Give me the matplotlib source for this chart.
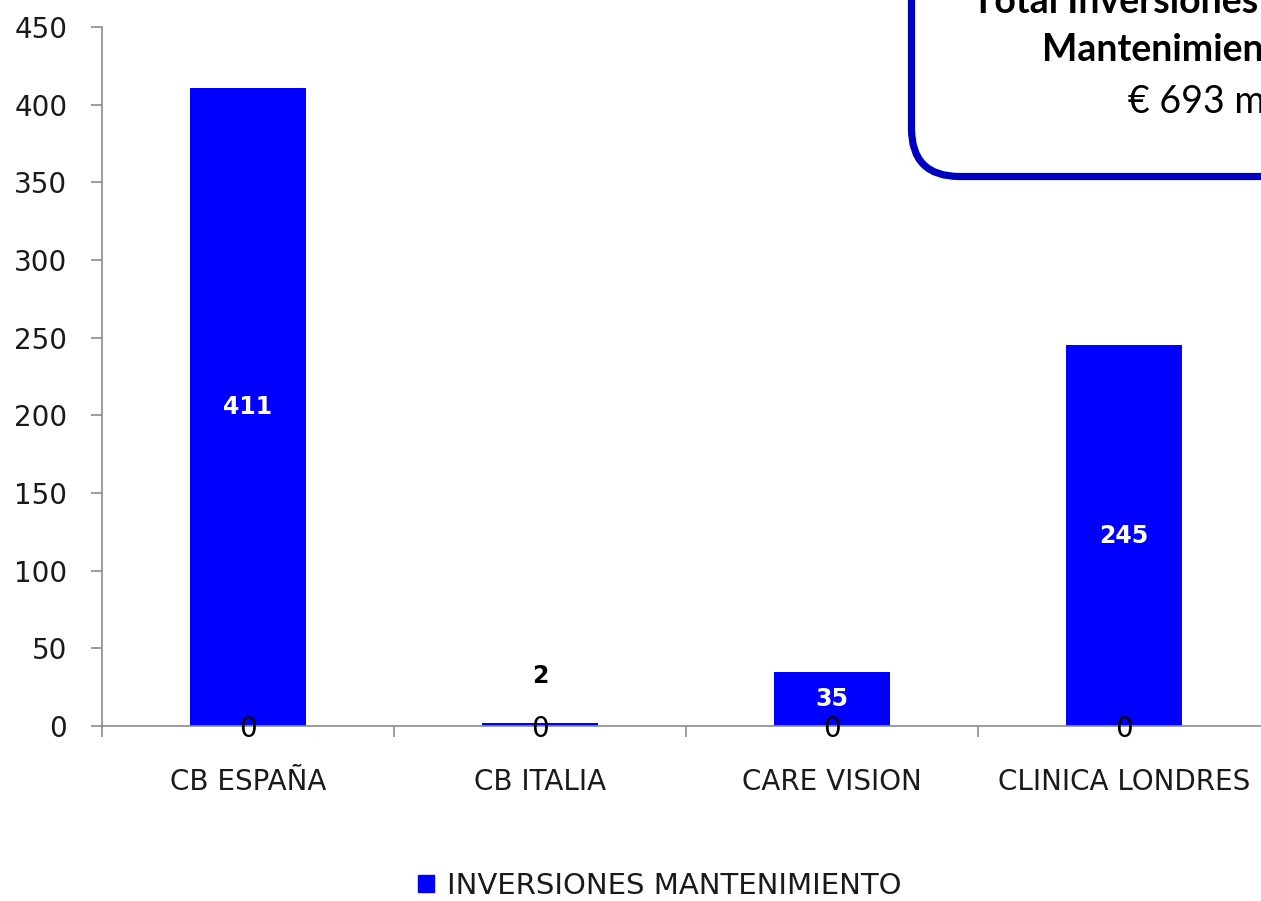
import numpy as np
import matplotlib.pyplot as plt
from matplotlib.patches import FancyBboxPatch
from matplotlib.patches import Patch

# chart data
categorias = ['CB ESPAÑA', 'CB ITALIA', 'CARE VISION', 'CLINICA LONDRES']
inversiones = [411, 2, 35, 245]
otros = [0, 0, 0, 0]
serie_nombre = 'INVERSIONES MANTENIMIENTO'
total_lineas = ['Total Inversiones', 'Mantenimiento', '€ 693 mil']
yticks = np.arange(0, 451, 50)

azul = '#0000FF'
gris = '#8C8C8C'

fig = plt.figure(figsize=(12.61, 9.01), dpi=100)
# axes runs past the right edge, as in the reference (chart is cropped)
ax = fig.add_axes([102 / 1261, 175 / 901, 1168 / 1261, 699 / 901])

x = np.arange(len(categorias))
ancho = 0.4

b0 = ax.bar(x, otros, ancho, color=azul)
b1 = ax.bar(x, inversiones, ancho, bottom=otros, color=azul)

# zero series labels sit on the baseline
for t in ax.bar_label(b0, labels=[str(v) for v in otros], label_type='center',
                      fontsize=20, color='black'):
    t.set_va('center_baseline')

# value labels: inside in white when the bar is tall enough, else above in black
dentro = [str(v) if v > 10 else '' for v in inversiones]
fuera = [str(v) if v <= 10 else '' for v in inversiones]
ax.bar_label(b1, labels=dentro, label_type='center', fontsize=17,
             fontweight='bold', color='white')
ax.bar_label(b1, labels=fuera, label_type='edge', padding=25, fontsize=17,
             fontweight='bold', color='black')

ax.set_xlim(-0.5, len(categorias) - 0.5)
ax.set_ylim(0, 450)
ax.set_yticks(yticks)
ax.set_xticks(np.arange(len(categorias) + 1) - 0.5)
ax.set_xticklabels([])
ax.tick_params(axis='y', labelsize=20, length=8, width=1.2, color=gris,
               labelcolor='#1a1a1a', pad=17)
ax.tick_params(axis='x', length=8, width=1.2, color=gris)

for i, cat in enumerate(categorias):
    ax.text(i, -0.0916, cat, transform=ax.get_xaxis_transform(),
            ha='center', va='baseline', fontsize=20, color='#1a1a1a')

for s in ['top', 'right']:
    ax.spines[s].set_visible(False)
for s in ['left', 'bottom']:
    ax.spines[s].set_color(gris)
    ax.spines[s].set_linewidth(1.2)

fig.legend(handles=[Patch(color=azul, label=serie_nombre)],
           loc='center', bbox_to_anchor=(660 / 1261, 1 - 886 / 901),
           frameon=False, fontsize=21, handlelength=0.55, handleheight=0.55,
           handletextpad=0.45, labelcolor='#1a1a1a')

# overlay in pixel units for the total box (cut by the figure edge)
ov = fig.add_axes([0, 0, 1, 1])
ov.set_xlim(0, 1261)
ov.set_ylim(901, 0)
ov.axis('off')
caja = FancyBboxPatch((911.5, -300), 800, 476.5,
                      boxstyle='round,pad=0,rounding_size=48',
                      facecolor='white', edgecolor='#0000C0', linewidth=5.2)
ov.add_patch(caja)
ov.text(972, 13, total_lineas[0], fontsize=27, fontweight='bold',
        family='Lato', va='baseline', ha='left')
ov.text(1042, 61, total_lineas[1], fontsize=27, fontweight='bold',
        family='Lato', va='baseline', ha='left')
ov.text(1128, 113, total_lineas[2], fontsize=27,
        family='Lato', va='baseline', ha='left')

fig.savefig('out.png', dpi=100)
